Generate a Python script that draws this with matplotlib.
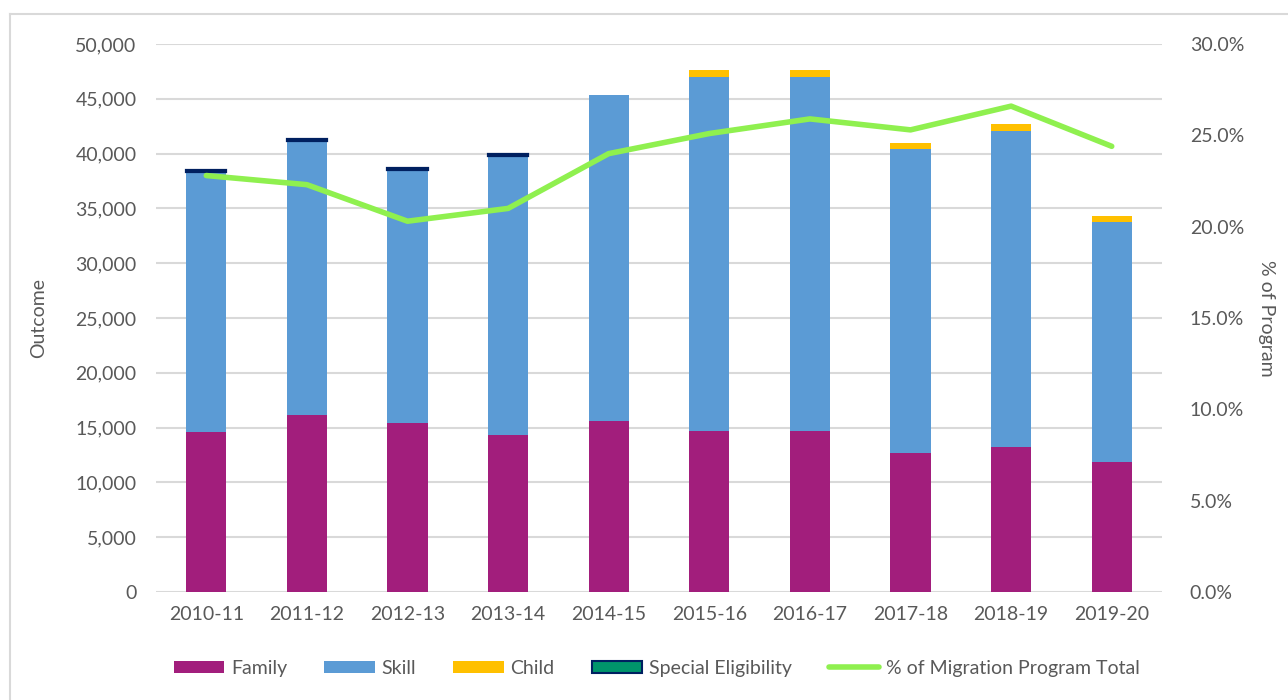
import matplotlib.pyplot as plt
from matplotlib.patches import Patch
from matplotlib.lines import Line2D
from matplotlib.ticker import FuncFormatter
import numpy as np

plt.rcParams['font.family'] = ['Lato', 'DejaVu Sans']

# Data
years = ['2010-11', '2011-12', '2012-13', '2013-14', '2014-15',
         '2015-16', '2016-17', '2017-18', '2018-19', '2019-20']
family = [14600, 16150, 15420, 14330, 15600, 14690, 14690, 12680, 13230, 11860]
skill = [23700, 25000, 23100, 25450, 29750, 32300, 32300, 27740, 28830, 21900]
child = [0, 0, 0, 0, 0, 640, 640, 550, 640, 540]
special = [200, 200, 200, 200, 0, 0, 0, 0, 0, 0]
pct_total = [22.8, 22.3, 20.3, 21.0, 24.0, 25.1, 25.9, 25.3, 26.6, 24.4]

c_family = '#A21E7C'
c_skill = '#5B9BD5'
c_child = '#FFC000'
c_special = '#00956B'
c_special_edge = '#002060'
c_line = '#8FF04F'
c_text = '#595959'
c_grid = '#D9D9D9'
fs = 14

fig = plt.figure(figsize=(12.88, 7.0), dpi=100)
ax = fig.add_axes([0.1211, 0.1543, 0.9022 - 0.1211, 0.9371 - 0.1543])

x = np.arange(len(years))
w = 0.4
fam = np.array(family)
sk = np.array(skill)
ch = np.array(child)
sp = np.array(special)

ax.bar(x, fam, w, color=c_family, zorder=2)
ax.bar(x, sk, w, bottom=fam, color=c_skill, zorder=2)
ax.bar(x, ch, w, bottom=fam + sk, color=c_child, zorder=2)
sp_mask = sp > 0
ax.bar(x[sp_mask], sp[sp_mask], w, bottom=(fam + sk + ch)[sp_mask], color=c_special,
       edgecolor=c_special_edge, linewidth=1.6, zorder=2)

ax.set_xlim(-0.5, len(years) - 0.5)
ax.set_ylim(0, 50000)
ax.set_yticks(np.arange(0, 50001, 5000))
ax.yaxis.set_major_formatter(FuncFormatter(lambda v, p: f'{int(v):,}'))
ax.set_xticks(x)
ax.set_xticklabels(years)
ax.grid(axis='y', color=c_grid, linewidth=1.5, zorder=0)
ax.set_axisbelow(True)
for s in ax.spines.values():
    s.set_visible(False)
ax.tick_params(axis='both', length=0, colors=c_text, labelsize=fs)
ax.tick_params(axis='y', pad=14)
ax.tick_params(axis='x', pad=10)
ax.set_ylabel('Outcome', color=c_text, fontsize=fs, labelpad=20)

ax2 = ax.twinx()
ax2.plot(x, pct_total, color=c_line, linewidth=4, solid_capstyle='round', zorder=3)
ax2.set_ylim(0, 30)
ax2.set_yticks(np.arange(0, 30.01, 5))
ax2.yaxis.set_major_formatter(FuncFormatter(lambda v, p: f'{v:.1f}%'))
for s in ax2.spines.values():
    s.set_visible(False)
ax2.tick_params(axis='y', length=0, colors=c_text, labelsize=fs, pad=20)
ax2.set_ylabel('% of Program', color=c_text, fontsize=fs, rotation=-90, labelpad=22)

handles = [
    Patch(facecolor=c_family, label='Family'),
    Patch(facecolor=c_skill, label='Skill'),
    Patch(facecolor=c_child, label='Child'),
    Patch(facecolor=c_special, edgecolor=c_special_edge, linewidth=1.5, label='Special Eligibility'),
    Line2D([0], [0], color=c_line, linewidth=4, solid_capstyle='round',
           label='% of Migration Program Total'),
]
fig.legend(handles=handles, loc='center', bbox_to_anchor=(0.51, 0.045), ncol=5,
           frameon=False, fontsize=fs, labelcolor=c_text, handlelength=2.6,
           handleheight=0.6, handletextpad=0.35, columnspacing=1.9)

# light frame on the top and left edges, as in the source
bx = 10 / 1288
by = 1 - 14 / 700
fig.add_artist(Line2D([bx, 1.0], [by, by], transform=fig.transFigure,
                      color=c_grid, linewidth=1.5))
fig.add_artist(Line2D([bx, bx], [0.0, by], transform=fig.transFigure,
                      color=c_grid, linewidth=1.5))

fig.savefig('out.png', dpi=100)
